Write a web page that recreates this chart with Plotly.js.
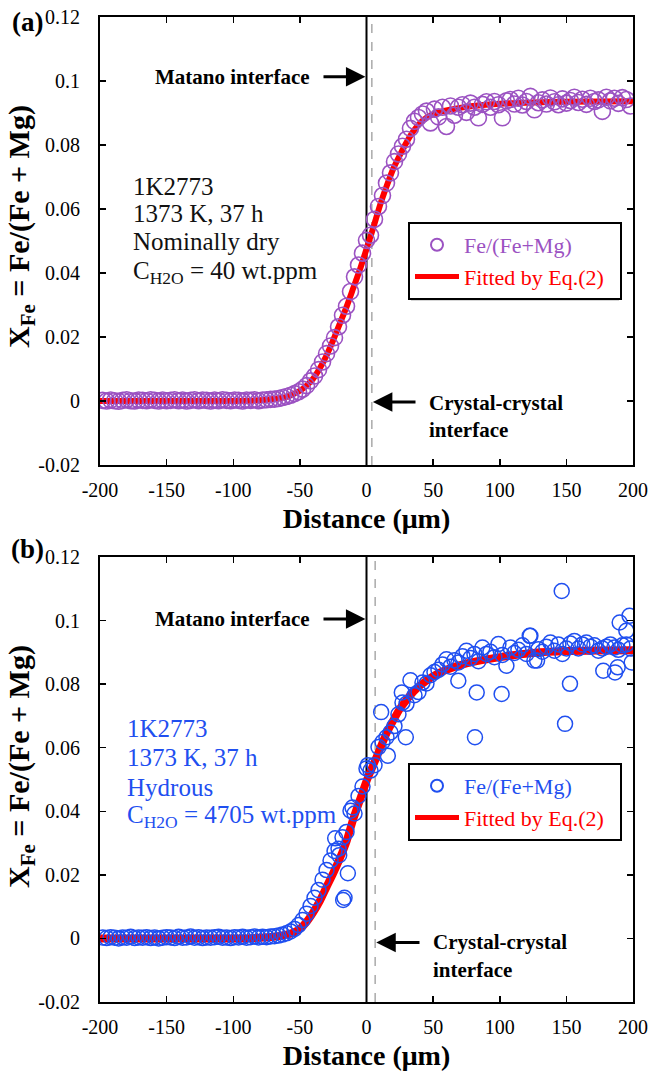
<!DOCTYPE html>
<html>
<head>
<meta charset="utf-8">
<script src="https://cdn.plot.ly/plotly-3.0.1.min.js"></script>
<style>html,body{margin:0;padding:0;background:#fff;}#chart{width:650px;height:1080px;}</style>
</head>
<body>
<div id="chart"></div>
<script>
// ---------- DATA ----------
const xTickVals = [-200, -150, -100, -50, 0, 50, 100, 150, 200];
const xTickText = ['-200', '-150', '-100', '-50', '0', '50', '100', '150', '200'];
const yTickVals = [-0.02, 0, 0.02, 0.04, 0.06, 0.08, 0.1, 0.12];
const yTickText = ['-0.02', '0', '0.02', '0.04', '0.06', '0.08', '0.1', '0.12'];

// sampling positions (µm)
const distA = [-198,-195,-192,-189,-186,-183,-180,-177,-174,-171,-168,-165,-162,-159,-156,-153,-150,-147,-144,-141,
  -138,-135,-132,-129,-126,-123,-120,-117,-114,-111,-108,-105,-102,-99,-96,-93,-90,-87,-84,-81,-78,-75,-72,
  -69,-66,-63,-60,-57,-54,-51,-48,-45,-42,-39,-36,-33,-30,-27,-24,-21,-18,-15,-12,-9,-6,-3,0,
  3,6,9,12,15,18,21,24,27,30,33,36,39,42,45,48,51,54,57,60,63,66,69,72,75,78,81,84,87,90,
  93,96,99,102,105,108,111,114,117,120,123,126,129,132,135,138,141,144,147,150,153,156,159,162,165,168,171,174,177,180,
  183,186,189,192,195,198];

// (a) nominally dry: measured Fe/(Fe+Mg)
const xfeA = [0.0002,0.0000,0.0003,0.0001,-0.0001,0.0002,0.0004,0.0001,0.0000,0.0003,
  0.0002,0.0001,0.0004,0.0002,0.0000,0.0003,0.0001,0.0002,0.0004,0.0001,
  0.0003,0.0000,0.0002,0.0004,0.0001,0.0003,0.0002,0.0000,0.0003,0.0001,
  0.0004,0.0002,0.0001,0.0003,0.0002,0.0000,0.0003,0.0002,0.0004,0.0001,
  0.0003,0.0004,0.0005,
  0.0006,0.0008,0.0011,0.0014,0.0018,0.0023,0.0029,0.0037,0.0048,0.0063,0.0078,0.0098,0.0122,0.0148,0.0172,0.0198,0.0232,0.0268,0.0296,0.0342,0.0388,0.0425,0.0462,
  0.0502,
  0.0518,0.0568,0.0608,0.0642,0.0681,0.0713,0.0748,0.0772,0.0796,0.0818,
  0.0852,0.0874,0.0886,0.0897,0.0906,0.0869,0.0912,0.0888,0.0918,0.0858,
  0.0922,0.0893,0.0918,0.0926,0.0902,0.0931,0.0918,0.0885,0.0927,0.0935,
  0.0918,0.0936,0.0926,0.0885,0.0938,0.0942,0.0928,0.0946,0.0925,0.0936,
  0.0952,0.0910,0.0932,0.0941,0.0928,0.0947,0.0935,0.0926,0.0944,0.0931,
  0.0939,0.0949,0.0933,0.0943,0.0927,0.0946,0.0936,0.0941,0.0905,0.0949,
  0.0938,0.0946,0.0930,0.0948,0.0942,0.0922];

// (a) fitted curve
const fitDistA = [-200,-150,-100,-80,-70,-60,-55,-50,-45,-40,-35,-30,-25,-20,-15,-10,-5,0,5,10,15,20,25,30,35,40,45,50,60,70,80,100,125,150,200];
const fitA = [0,0,0,0.0002,0.0006,0.0013,0.0022,0.0032,0.0048,0.0070,0.0102,0.0142,0.0190,0.0242,0.0294,0.0352,0.0410,0.0475,0.0540,0.0610,0.0670,0.0725,0.0768,0.0808,0.0842,0.0868,0.0885,0.0896,0.0908,0.0916,0.0922,0.0929,0.0933,0.0935,0.0937];

// (b) hydrous: measured Fe/(Fe+Mg)
const distB = distA.concat([-23.5,-20.5,-17.5,-16.5,-14,-10.5,1,11,16,26.5,29.5,68.9,81.4,82.7,101.4,122.5,128,146.5,149,152.7,177.7,186.5,188.5,190,195,197.4,199]);
const xfeB = [0.0003,0.0001,0.0004,0.0002,0.0000,0.0003,0.0002,0.0005,0.0001,0.0003,
  0.0002,0.0004,0.0001,0.0003,0.0000,0.0002,0.0004,0.0003,0.0001,0.0005,
  0.0002,0.0003,0.0006,0.0002,0.0004,0.0001,0.0003,0.0002,0.0004,0.0005,
  0.0002,0.0003,0.0001,0.0004,0.0003,0.0005,0.0002,0.0004,0.0006,0.0003,
  0.0005,0.0004,0.0006,
  0.0007,0.0009,0.0012,0.0016,0.0022,0.0030,0.0042,0.0058,0.0078,0.0102,0.0128,0.0152,0.0185,0.0215,0.0245,0.0275,0.0282,0.0318,0.0335,0.0402,0.0393,0.0448,0.0478,
  0.0535,
  0.0528,0.0545,0.0602,0.0618,0.0633,0.0648,0.0668,0.0705,0.0742,0.0738,
  0.0812,0.0765,0.0775,0.0805,0.0802,0.0828,0.0838,0.0845,0.0862,0.0878,
  0.0855,0.0875,0.0868,0.0888,0.0905,0.0882,0.0895,0.0872,0.0915,0.0895,
  0.0902,0.0885,0.0926,0.0892,0.0858,0.0915,0.0898,0.0908,0.0922,0.0895,
  0.0952,0.0874,0.0910,0.0902,0.0918,0.0931,0.0905,0.0925,0.0895,0.0912,
  0.0928,0.0936,0.0912,0.0925,0.0931,0.0918,0.0922,0.0905,0.0912,0.0918,
  0.0925,0.0915,0.0908,0.0922,0.0925,0.0912,
  0.0315,0.0262,0.0121,0.0128,0.0205,0.0412,0.0545,0.0712,0.0575,0.0774,0.0633,0.0811,0.0633,0.0774,0.0769,0.0952,0.0874,0.1093,0.0675,0.0801,0.0842,0.0837,0.0853,0.0994,0.0968,0.1015,0.0868];

// (b) fitted curve
const fitDistB = [-200,-150,-100,-80,-70,-60,-55,-50,-45,-40,-35,-30,-25,-20,-15,-10,-5,0,5,10,15,20,25,30,35,40,50,60,75,100,125,150,175,200];
const fitB = [0,0,0,0.0002,0.0005,0.0012,0.0018,0.0030,0.0052,0.0082,0.0118,0.0162,0.0205,0.0252,0.0305,0.0375,0.0435,0.0495,0.0545,0.0595,0.0645,0.0685,0.0722,0.0750,0.0775,0.0795,0.0825,0.0845,0.0865,0.0885,0.0898,0.0904,0.0906,0.0907];

// interfaces (µm): Matano and crystal-crystal
const matanoX = [0, 0];
const crystalX = [4, 6.5];

// texts
const panelLabels = ['(a)', '(b)'];
const infoA = ['1K2773', '1373 K, 37 h', 'Nominally dry', 'C<sub>H2O</sub> = 40 wt.ppm'];
const infoB = ['1K2773', '1373 K, 37 h', 'Hydrous', 'C<sub>H2O</sub> = 4705 wt.ppm'];
const seriesNames = ['Fe/(Fe+Mg)', 'Fitted by Eq.(2)'];

// ---------- STYLE ----------
const FONT = 'Liberation Serif, Times New Roman, serif';
const PURPLE = '#9B52C2';
const BLUE = '#1F4FF0';
const RED = '#FF0000';
const L = 100, R = 633, T = 17, B = 1002;
const pxX = p => (p - L) / (R - L);
const pxY = p => (B - p) / (B - T);
const pad = '&nbsp;&nbsp;';

const traces = [
  {x: fitDistA, y: fitA, type: 'scatter', mode: 'lines', line: {color: RED, width: 6, shape: 'spline', smoothing: 0.6},
   name: '<span style="color:' + RED + '">' + seriesNames[1] + pad + '</span>', legend: 'legend', legendrank: 2, xaxis: 'x', yaxis: 'y'},
  {x: distA, y: xfeA, type: 'scatter', mode: 'markers', marker: {symbol: 'circle-open', size: 16, color: PURPLE, line: {width: 1.6, color: PURPLE}},
   name: '<span style="color:' + PURPLE + '">' + seriesNames[0] + '</span>', legend: 'legend', legendrank: 1, xaxis: 'x', yaxis: 'y'},
  {x: fitDistB, y: fitB, type: 'scatter', mode: 'lines', line: {color: RED, width: 8, shape: 'spline', smoothing: 0.6},
   name: '<span style="color:' + RED + '">' + seriesNames[1] + pad + '</span>', legend: 'legend2', legendrank: 2, xaxis: 'x2', yaxis: 'y2'},
  {x: distB, y: xfeB, type: 'scatter', mode: 'markers', marker: {symbol: 'circle-open', size: 15, color: BLUE, line: {width: 1.5, color: BLUE}},
   name: '<span style="color:' + BLUE + '">' + seriesNames[0] + '</span>', legend: 'legend2', legendrank: 1, xaxis: 'x2', yaxis: 'y2'}
];

function xAxis(anchor) {
  return {anchor: anchor, domain: [0, 1], range: [-200, 200], tickvals: xTickVals, ticktext: xTickText,
    ticks: 'inside', ticklen: 6, tickwidth: 1.5, tickcolor: '#000', showline: true, linewidth: 2, linecolor: '#000',
    mirror: 'ticks', showgrid: false, zeroline: false, ticklabelstandoff: 6,
    tickfont: {family: FONT, size: 20, color: '#000'},
    title: {text: '<b>Distance (μm)</b>', font: {family: FONT, size: 28, color: '#000'}, standoff: 8}};
}
function yAxis(anchor, dom) {
  return {anchor: anchor, domain: dom, range: [-0.02, 0.12], tickvals: yTickVals, ticktext: yTickText,
    ticks: 'inside', ticklen: 6, tickwidth: 1.5, tickcolor: '#000', showline: true, linewidth: 2, linecolor: '#000',
    mirror: 'ticks', showgrid: false, zeroline: false, ticklabelstandoff: 14,
    tickfont: {family: FONT, size: 20, color: '#000'}};
}

const shapes = [];
const yrefs = ['y', 'y2'], xrefs = ['x', 'x2'];
for (let i = 0; i < 2; i++) {
  shapes.push({type: 'line', xref: xrefs[i], yref: yrefs[i] + ' domain', x0: crystalX[i], x1: crystalX[i], y0: 0, y1: 1,
    line: {color: '#AAAAAA', width: 1.5, dash: 'dash'}, layer: 'below'});
  shapes.push({type: 'line', xref: xrefs[i], yref: yrefs[i] + ' domain', x0: matanoX[i], x1: matanoX[i], y0: 0, y1: 1,
    line: {color: '#000', width: 2}, layer: 'below'});
}
// legend shadows
[[222, 298], [763, 838]].forEach(([t, b]) => {
  shapes.push({type: 'rect', xref: 'paper', yref: 'paper', x0: pxX(411), x1: pxX(619), y0: pxY(b + 3), y1: pxY(t + 3),
    fillcolor: '#D6D6D6', line: {width: 0}, layer: 'above'});
});

const ann = [];
// panel labels
ann.push({text: '<b>' + panelLabels[0] + '</b>', xref: 'paper', yref: 'paper', x: pxX(27), y: pxY(22), xanchor: 'center', yanchor: 'middle',
  showarrow: false, font: {family: FONT, size: 27, color: '#000'}});
ann.push({text: '<b>' + panelLabels[1] + '</b>', xref: 'paper', yref: 'paper', x: pxX(27), y: pxY(549), xanchor: 'center', yanchor: 'middle',
  showarrow: false, font: {family: FONT, size: 27, color: '#000'}});
// y titles
[227, 767].forEach(c => ann.push({text: '<b>X<sub>Fe</sub> = Fe/(Fe + Mg)</b>', xref: 'paper', yref: 'paper', x: pxX(21), y: pxY(c),
  xanchor: 'center', yanchor: 'middle', textangle: -90, showarrow: false, font: {family: FONT, size: 30, color: '#000'}}));
// info text blocks
const infoPos = [{x: -176.7, ys: [0.0669, 0.0587, 0.0497, 0.0403], color: '#111', xr: 'x', yr: 'y', lines: infoA},
                 {x: -181, ys: [0.0660, 0.0570, 0.0476, 0.0384], color: BLUE, xr: 'x2', yr: 'y2', lines: infoB}];
infoPos.forEach(p => p.lines.forEach((t, k) => ann.push({text: t, xref: p.xr, yref: p.yr, x: p.x, y: p.ys[k], xanchor: 'left',
  yanchor: 'middle', showarrow: false, font: {family: FONT, size: 25, color: p.color}})));
// Matano interface
[[0.1013, 'x', 'y'], [0.1005, 'x2', 'y2']].forEach(([yy, xr, yr], i) => {
  ann.push({text: '<b>Matano interface</b>', xref: xr, yref: yr, x: -41.1, y: yy, xanchor: 'right', yanchor: 'middle', showarrow: false,
    font: {family: FONT, size: 21, color: '#000'}});
  ann.push({text: '', xref: xr, yref: yr, axref: xr, ayref: yr, x: matanoX[i] - 0.8, y: yy, ax: -33.4, ay: yy, showarrow: true,
    arrowhead: 2, arrowsize: 1.3, arrowwidth: 3, arrowcolor: '#000', standoff: 0});
});
// crystal-crystal interface
[[-0.0003, -0.0007, -0.0092, 37.9, 45.4, 'x', 'y'], [-0.00125, -0.001, -0.0098, 40.9, 48.4, 'x2', 'y2']].forEach(([ay, y1, y2, tail, tx, xr, yr], i) => {
  ann.push({text: '', xref: xr, yref: yr, axref: xr, ayref: yr, x: crystalX[i] + 0.8, y: ay, ax: tail, ay: ay, showarrow: true,
    arrowhead: 2, arrowsize: 1.3, arrowwidth: 3, arrowcolor: '#000', standoff: 0});
  ann.push({text: '<b>Crystal-crystal</b>', xref: xr, yref: yr, x: tx, y: y1, xanchor: 'left', yanchor: 'middle', showarrow: false,
    font: {family: FONT, size: 21, color: '#000'}});
  ann.push({text: '<b>interface</b>', xref: xr, yref: yr, x: tx, y: y2, xanchor: 'left', yanchor: 'middle', showarrow: false,
    font: {family: FONT, size: 21, color: '#000'}});
});

function legendCfg(top) {
  return {x: pxX(408), y: pxY(top), xanchor: 'left', yanchor: 'top', bgcolor: '#fff', bordercolor: '#000', borderwidth: 2,
    font: {family: FONT, size: 22, color: '#000'}, itemsizing: 'constant', itemwidth: 44, tracegroupgap: 0, traceorder: 'normal'};
}

const layout = {
  width: 650, height: 1080,
  margin: {l: L, r: 650 - R, t: T, b: 1080 - B, pad: 0},
  paper_bgcolor: '#fff', plot_bgcolor: '#fff',
  font: {family: FONT, color: '#000'},
  showlegend: true,
  xaxis: xAxis('y'), yaxis: yAxis('x', [pxY(465), 1]),
  xaxis2: xAxis('y2'), yaxis2: yAxis('x2', [0, pxY(557)]),
  legend: legendCfg(222), legend2: legendCfg(763),
  shapes: shapes, annotations: ann
};

Plotly.newPlot('chart', traces, layout, {displayModeBar: false, staticPlot: true});
</script>
</body>
</html>
